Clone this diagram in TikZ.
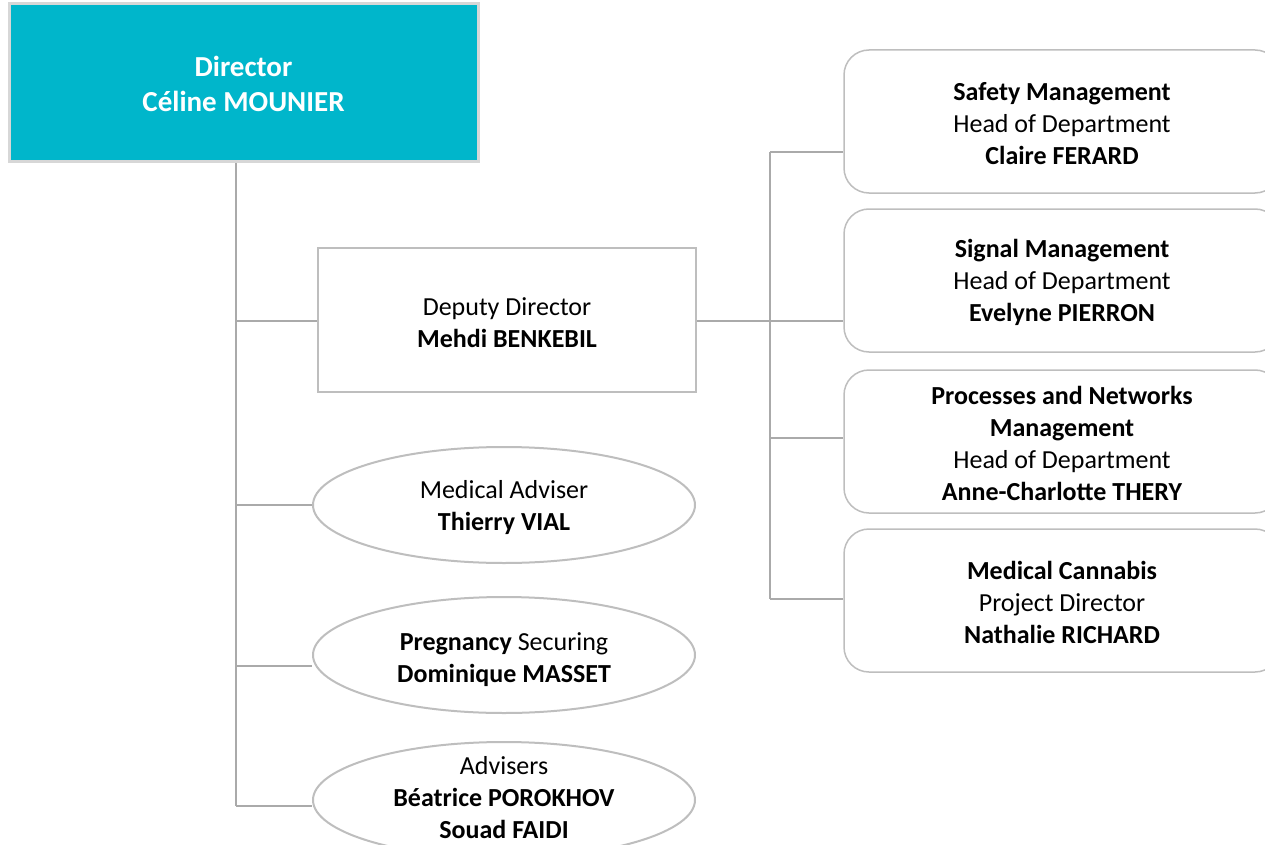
\documentclass[tikz,border=0pt]{standalone}
\usepackage{fontspec}
\setmainfont{Carlito}
\usetikzlibrary{shapes.geometric}
\definecolor{dircyan}{RGB}{0,182,203}
\definecolor{lineg}{RGB}{170,170,170}
\definecolor{boxg}{RGB}{190,190,190}
\definecolor{dirborder}{RGB}{215,215,215}
\begin{document}
\begin{tikzpicture}[x=1pt,y=-1pt,
  txt/.style={font=\fontsize{26}{32}\selectfont, align=center},
  lbl/.style 2 args={label={[txt,yshift=#1]center:{#2}}},
  dirbox/.style={draw=dirborder, line width=3pt, fill=dircyan,
    minimum width=469pt, minimum height=158pt, inner sep=0pt},
  depbox/.style={draw=boxg, line width=1.5pt, fill=white,
    minimum width=378pt, minimum height=144pt, inner sep=0pt},
  oval/.style={ellipse, draw=boxg, line width=2pt, fill=white,
    minimum width=382pt, minimum height=116pt, inner sep=0pt},
  rbox/.style={draw=boxg, line width=1.5pt, fill=white, rounded corners=25pt,
    minimum width=436pt, minimum height=143pt, inner sep=0pt},
  conn/.style={draw=lineg, line width=2pt}]
\useasboundingbox (0,0) rectangle (1265,845);
\clip (0,0) rectangle (1265,845);

% junction coordinates
\coordinate (ja) at (236,321);
\coordinate (jb) at (236,505);
\coordinate (jc) at (236,666);
\coordinate (jd) at (236,806);
\coordinate (ra) at (770,152);
\coordinate (rb) at (770,321);
\coordinate (rc) at (770,438);
\coordinate (rd) at (770,599);

\node[dirbox, label={[text=white, font=\fontsize{29}{35}\selectfont\bfseries, align=center, yshift=-1pt]center:{Director\\Céline MOUNIER}}] (dir) at (243.5,83) {};
\node[depbox, lbl={-2.5pt}{Deputy Director\\\textbf{Mehdi BENKEBIL}}] (dep) at (507,320) {};
\node[oval, lbl={-3pt}{Medical Adviser\\\textbf{Thierry VIAL}}] (med) at (504,505) {};
\node[oval, lbl={-5pt}{\textbf{Pregnancy} Securing\\\textbf{Dominique MASSET}}] (preg) at (504,655) {};
\node[oval, lbl={2pt}{Advisers\\\textbf{Béatrice POROKHOV}\\\textbf{Souad FAIDI}}] (adv) at (504,800) {};

\node[rbox, lbl={-2pt}{\textbf{Safety Management}\\Head of Department\\\textbf{Claire FERARD}}] (safe) at (1062,121.5) {};
\node[rbox, lbl={-2pt}{\textbf{Signal Management}\\Head of Department\\\textbf{Evelyne PIERRON}}] (sig) at (1062,280.5) {};
\node[rbox, lbl={-2pt}{\textbf{Processes and Networks}\\\textbf{Management}\\Head of Department\\\textbf{Anne-Charlotte THERY}}] (proc) at (1062,441.5) {};
\node[rbox, lbl={-2pt}{\textbf{Medical Cannabis}\\Project Director\\\textbf{Nathalie RICHARD}}] (can) at (1062,600.5) {};

% left tree
\path[conn] (dir.south -| ja) -- (jd);
\path[conn] (ja) -- (ja -| dep.west);
\path[conn] (jb) -- (jb -| med.west);
\path[conn] (jc) -- (jc -| preg.west);
\path[conn] (jd) -- (jd -| adv.west);

% right tree
\path[conn] (dep.east |- rb) -- (rb);
\path[conn] (ra) -- (rd);
\path[conn] (ra) -- (ra -| safe.west);
\path[conn] (rb) -- (rb -| sig.west);
\path[conn] (rc) -- (rc -| proc.west);
\path[conn] (rd) -- (rd -| can.west);
\end{tikzpicture}
\end{document}
